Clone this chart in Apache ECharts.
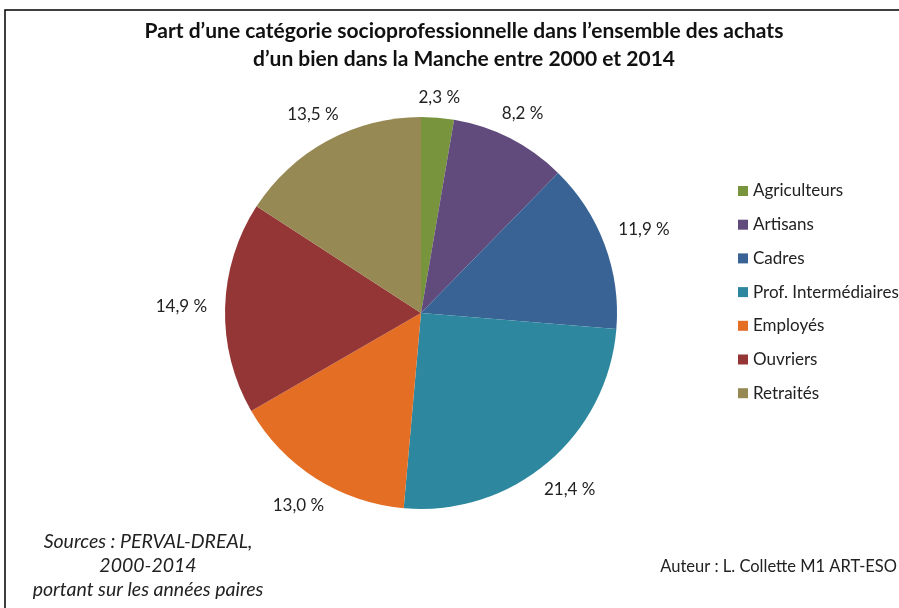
<!DOCTYPE html>
<html>
<head>
<meta charset="utf-8">
<script src="https://cdn.jsdelivr.net/npm/echarts@6/dist/echarts.min.js"></script>
<style>
  html, body { margin: 0; padding: 0; background: #fff; }
  #main { width: 899px; height: 608px; }
</style>
</head>
<body>
<div id="main"></div>
<script>
// catégories et parts (%)
var categories = ['Agriculteurs', 'Artisans', 'Cadres', 'Prof. Intermédiaires', 'Employés', 'Ouvriers', 'Retraités'];
var parts = [2.3, 8.2, 11.9, 21.4, 13.0, 14.9, 13.5];
var colors = ['#78943c', '#614a7c', '#386394', '#2d879e', '#e46e24', '#943635', '#968953'];

var FONT = 'Lato';
var cx = 421, cy = 313, R = 196;

var total = parts.reduce(function (a, b) { return a + b; }, 0);

// angle milieu de chaque part (départ en haut, sens horaire)
function midAngle(i) {
    var cum = 0;
    for (var k = 0; k < i; k++) cum += parts[k];
    return (90 - (cum + parts[i] / 2) / total * 360) * Math.PI / 180;
}

var chart = echarts.init(document.getElementById('main'));

var opt = {
    backgroundColor: '#fff',
    color: colors,
    animation: false,
    title: {
        text: 'Part d\u2019une catégorie socioprofessionnelle dans l\u2019ensemble des achats\nd\u2019un bien dans la Manche entre 2000 et 2014',
        left: 459,
        top: 12,
        textAlign: 'center',
        textStyle: {
            fontFamily: FONT,
            fontSize: 21,
            fontWeight: 'bold',
            color: '#111',
            lineHeight: 28
        }
    },
    legend: {
        orient: 'vertical',
        left: 733,
        top: 177,
        itemWidth: 10,
        itemHeight: 10,
        itemGap: 15.7,
        icon: 'rect',
        textStyle: { fontFamily: FONT, fontSize: 17, color: '#222', lineHeight: 18 },
        data: categories
    },
    graphic: [
        {
            type: 'rect',
            shape: { x: 5, y: 10, width: 900, height: 610 },
            style: { fill: 'none', stroke: '#000', lineWidth: 1.5 },
            silent: true
        },
        {
            type: 'text',
            style: {
                x: 148, y: 530,
                text: 'Sources : PERVAL-DREAL,\n2000-2014\nportant sur les années paires',
                font: 'italic 19.5px ' + FONT,
                fill: '#222',
                align: 'center',
                lineHeight: 24
            }
        },
        {
            type: 'text',
            style: {
                x: 897, y: 558,
                text: 'Auteur : L. Collette M1 ART-ESO',
                font: '16.5px ' + FONT,
                fill: '#222',
                align: 'right'
            }
        }
    ],
    series: [
        {
            type: 'pie',
            center: [cx, cy],
            radius: R,
            startAngle: 90,
            clockwise: true,
            label: {
                show: true,
                position: 'outside',
                fontFamily: FONT,
                fontSize: 17,
                color: '#222',
                formatter: function (p) {
                    return p.value.toFixed(1).replace('.', ',') + ' %';
                }
            },
            labelLine: { show: false },
            labelLayout: function (params) {
                var a = midAngle(params.dataIndex);
                var dx = Math.cos(a), dy = -Math.sin(a);
                var w = params.labelRect.width;
                var d = R + 18 + Math.abs(dx) * w / 2;
                return {
                    x: cx + dx * d,
                    y: cy + dy * d,
                    align: 'center',
                    verticalAlign: 'middle'
                };
            },
            itemStyle: { borderWidth: 0 },
            data: categories.map(function (c, i) {
                return { name: c, value: parts[i] };
            })
        }
    ]
};

chart.setOption(opt);
</script>
</body>
</html>
